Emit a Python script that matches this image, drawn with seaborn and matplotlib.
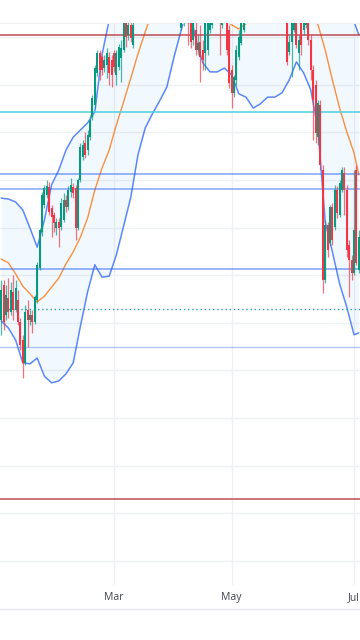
import matplotlib
matplotlib.use("Agg")
import matplotlib.pyplot as plt
import seaborn as sns

# daily candles, one per bar
opens = [150.6, 158.0, 151.6, 155.2, 152.3, 156.5, 152.7, 154.8, 150.2, 146.4,
         141.6, 152.7, 150.6, 151.6, 150.2, 154.8, 161.5, 169.1, 174.7, 176.8,
         178.5, 174.1, 172.7, 169.9, 171.2, 170.1, 171.6, 175.8, 174.3, 177.5,
         178.5, 178.3, 169.9, 180.0, 184.8, 187.8, 186.3, 189.0, 193.2, 195.8,
         202.5, 206.7, 205.8, 203.5, 204.2, 205.8, 205.2, 206.7, 202.1, 203.7,
         205.6, 207.3, 213.0, 210.4, 212.6, 208.4, 214.0, 216.5, 218.8, 217.6,
         220.4, 222.1, 221.0, 223.8, 225.2, 223.6, 224.9, 222.4, 223.9, 221.5,
         219.8, 220.9, 218.6, 217.2, 218.1, 211.9, 213.6, 215.7, 215.7, 214.7,
         209.4, 211.5, 207.3, 209.0, 207.3, 206.7, 207.3, 211.5, 212.6, 215.7,
         217.0, 215.7, 212.6, 215.7, 214.7, 211.5, 203.1, 198.3, 201.0, 205.8,
         208.8, 211.5, 214.7, 217.3, 219.6, 218.2, 221.4, 223.5, 222.0, 224.8,
         226.7, 225.1, 223.2, 224.6, 222.1, 220.3, 221.5, 219.0, 217.4, 214.7,
         206.9, 209.0, 211.5, 213.6, 206.7, 214.7, 211.5, 212.6, 214.0, 209.4,
         203.1, 199.9, 189.0, 195.8, 182.1, 159.0, 170.6, 166.8, 174.3, 170.1,
         177.9, 172.7, 177.9, 181.5, 177.9, 166.4, 163.2, 160.5, 182.1, 161.1]
highs = [159.0, 159.0, 158.0, 159.4, 158.6, 160.0, 159.0, 156.9, 151.0, 147.4,
         153.7, 154.8, 152.7, 152.7, 155.8, 162.8, 169.9, 177.5, 179.0, 180.0,
         179.6, 174.7, 173.3, 172.0, 172.0, 176.2, 177.3, 176.8, 178.7, 180.4,
         179.4, 179.0, 180.4, 187.8, 188.4, 190.1, 190.5, 193.7, 197.9, 204.2,
         207.3, 207.3, 206.3, 206.3, 207.7, 206.9, 206.3, 207.3, 207.3, 208.6,
         209.4, 214.7, 214.7, 214.7, 214.0, 214.7, 217.5, 219.5, 220.2, 221.3,
         223.0, 223.4, 224.9, 226.3, 226.0, 226.1, 225.6, 224.8, 224.4, 222.3,
         221.8, 221.5, 219.4, 219.0, 218.8, 216.8, 216.8, 218.0, 217.8, 216.8,
         215.7, 213.6, 210.5, 212.6, 209.4, 215.7, 216.8, 216.8, 217.8, 218.3,
         218.0, 217.8, 216.8, 217.6, 216.8, 212.6, 204.2, 202.1, 208.4, 211.5,
         214.7, 216.8, 218.4, 220.5, 220.8, 222.3, 224.6, 224.2, 225.9, 227.5,
         227.6, 226.0, 225.5, 225.0, 223.0, 222.6, 222.1, 219.8, 219.5, 216.8,
         210.5, 215.7, 215.7, 215.7, 210.5, 216.8, 216.8, 215.7, 215.7, 210.5,
         204.2, 201.0, 196.8, 196.8, 183.2, 171.6, 171.2, 174.7, 175.2, 178.9,
         178.7, 180.0, 182.7, 182.7, 178.9, 167.4, 164.3, 182.1, 183.2, 169.5]
lows = [147.5, 148.5, 150.6, 151.0, 151.6, 150.6, 152.3, 149.5, 144.3, 138.4,
        141.2, 144.9, 149.5, 147.9, 149.8, 154.2, 161.1, 168.2, 174.1, 176.2,
        172.7, 168.0, 169.1, 168.4, 165.9, 169.5, 171.2, 173.3, 173.7, 176.4,
        176.2, 167.4, 169.5, 179.6, 184.2, 184.6, 185.2, 188.4, 192.6, 195.1,
        201.8, 201.0, 202.1, 202.7, 201.4, 200.0, 199.5, 202.7, 200.0, 203.1,
        200.6, 206.9, 208.0, 209.4, 209.0, 207.7, 213.6, 215.8, 216.9, 217.0,
        219.6, 220.2, 220.5, 222.9, 222.8, 222.5, 221.7, 221.5, 220.6, 218.9,
        218.7, 217.7, 216.3, 216.0, 215.2, 211.5, 212.3, 213.6, 208.4, 207.7,
        208.4, 206.3, 206.3, 200.6, 203.1, 203.1, 206.3, 210.9, 211.9, 214.2,
        214.5, 206.3, 211.9, 214.0, 206.3, 199.3, 195.1, 197.4, 200.0, 205.2,
        208.4, 211.1, 213.9, 216.4, 217.3, 217.5, 220.6, 221.1, 221.3, 223.9,
        224.2, 222.4, 222.1, 221.2, 219.4, 219.5, 218.1, 216.2, 215.0, 204.2,
        206.3, 201.6, 211.1, 207.7, 203.1, 206.3, 210.5, 211.9, 208.4, 201.0,
        188.4, 187.8, 187.4, 182.1, 156.3, 158.4, 163.8, 166.4, 166.4, 169.5,
        172.0, 172.2, 177.5, 172.7, 163.8, 155.4, 159.0, 160.1, 162.2, 160.5]
closes = [156.9, 150.2, 155.8, 152.3, 156.9, 152.7, 157.3, 150.2, 145.3, 141.6,
          152.3, 150.6, 151.6, 150.2, 155.4, 162.1, 169.5, 176.8, 178.3, 178.7,
          173.3, 172.2, 171.0, 171.2, 169.9, 175.2, 175.8, 174.3, 177.9, 179.0,
          177.3, 169.9, 180.0, 186.9, 187.4, 185.2, 189.5, 192.6, 197.2, 203.5,
          206.7, 203.1, 203.1, 205.2, 206.7, 202.5, 202.1, 203.7, 206.7, 207.9,
          207.7, 213.0, 210.0, 212.6, 209.8, 212.6, 216.5, 218.8, 217.6, 220.4,
          222.1, 221.0, 223.8, 225.2, 223.6, 224.9, 222.4, 223.9, 221.5, 219.8,
          220.9, 218.6, 217.2, 218.1, 216.4, 214.7, 215.7, 216.9, 213.6, 209.0,
          213.2, 207.3, 208.8, 205.8, 205.2, 213.0, 213.6, 214.7, 215.7, 217.0,
          216.2, 213.6, 215.7, 216.5, 207.3, 200.4, 198.3, 201.6, 207.3, 210.0,
          213.0, 214.7, 217.3, 219.6, 218.2, 221.4, 223.5, 222.0, 224.8, 226.7,
          225.1, 223.2, 224.6, 222.1, 220.3, 221.5, 219.0, 217.4, 218.6, 204.8,
          209.0, 213.6, 214.0, 208.4, 209.4, 208.4, 214.7, 213.6, 209.4, 203.1,
          196.8, 189.9, 196.2, 183.2, 159.0, 170.6, 165.3, 174.3, 167.4, 177.9,
          173.1, 179.4, 182.1, 177.9, 165.3, 163.2, 160.5, 169.5, 162.6, 168.0]

# bollinger bands read every third bar
band_bars = [0, 3, 6, 9, 12, 15, 18, 21, 24, 27, 30, 33, 36, 39, 42, 45, 48,
             51, 54, 57, 60, 63, 66, 69, 72, 75, 78, 81, 84, 87, 90, 93, 96,
             99, 102, 105, 108, 111, 114, 117, 120, 123, 126, 129, 132, 135,
             138, 141, 144, 147, 149]
upper_band = [176.2, 176.0, 175.4, 173.7, 169.9, 165.9, 171.6, 179.0, 182.1, 186.3,
              189.0, 190.5, 192.0, 194.3, 206.3, 213.6, 222, 228, 233, 236,
              238, 240, 241, 241, 240, 238, 236, 234, 232, 231,
              230, 230, 224, 225, 227, 229, 229, 229, 229, 229,
              230, 231, 231, 230, 230, 229, 226, 222, 217, 213.3, 210.5]
lower_band = [150.4, 148.9, 146.4, 141.6, 141.4, 142.6, 138.8, 137.4, 137.8, 139.3,
              141.6, 149.3, 156.5, 162.2, 159.6, 159.8, 164.3, 170.3, 176.4, 185.3,
              190.9, 193.9, 196.6, 199.5, 205.8, 211.5, 216.8, 209.8, 204.6, 202.7,
              202.7, 203.5, 202.1, 198.1, 197.4, 195.1, 196.0, 197.4, 197.4, 198.3,
              201.0, 204.8, 202.5, 198.9, 190.5, 171.2, 164.9, 158.2, 153.3, 147.5, 147.9]
basis = [163.4, 162.6, 160.3, 157.7, 156.1, 154.4, 155.6, 157.5, 159.4, 162.4,
         164.9, 168.0, 172.0, 177.9, 182.5, 186.3, 191.6, 196.4, 201.4, 206.5,
         211.1, 215.5, 217, 218, 218.5, 218, 217.5, 216.5, 215.5, 214.8,
         214.2, 213.6, 212.6, 211.7, 212.8, 213.8, 214.5, 215, 215.5, 216,
         216.5, 217, 216.5, 215, 212.6, 207.3, 201.0, 195.1, 190.1, 185.7, 181.1]

# drawn price levels
red_levels = [210.5, 113.0]
cyan_levels = [194.3]
blue_levels = [181.3, 161.3]
blue_soft_levels = [178.1]
light_blue_levels = [144.9]
dotted_levels = [153.0]

month_bars = [47, 96, 147]
month_labels = ["Mar", "May", "Jul"]

sns.set_style('white')
plt.rcParams['font.family'] = ['Open Sans', 'DejaVu Sans']

green = '#089981'
red = '#f23645'

fig = plt.figure(figsize=(3.6, 6.4), dpi=100)
ax = fig.add_axes([0, 55 / 640, 1, 562 / 640])

# band fill and lines
ax.fill_between(band_bars, lower_band, upper_band, color='#2196f3', alpha=0.06, lw=0)
sns.lineplot(x=band_bars, y=upper_band, ax=ax, color='#2962ff', alpha=0.75, lw=1.1)
sns.lineplot(x=band_bars, y=lower_band, ax=ax, color='#2962ff', alpha=0.75, lw=1.1)
sns.lineplot(x=band_bars, y=basis, ax=ax, color='#ff6d00', alpha=0.75, lw=1.0)

# levels
for lv in red_levels:
    ax.axhline(lv, color='#b22833', alpha=0.7, lw=1.3)
for lv in cyan_levels:
    ax.axhline(lv, color='#4dd0e1', alpha=0.8, lw=1.4)
for lv in blue_levels:
    ax.axhline(lv, color='#2962ff', alpha=0.6, lw=1.1)
for lv in blue_soft_levels:
    ax.axhline(lv, color='#2962ff', alpha=0.45, lw=1.4)
for lv in light_blue_levels:
    ax.axhline(lv, color='#2962ff', alpha=0.35, lw=1.0)
for lv in dotted_levels:
    ax.axhline(lv, color='#26a69a', lw=1.0, ls=(0, (1, 2)))

# candles
bars = list(range(len(closes)))
colors = [green if c >= o else red for o, c in zip(opens, closes)]
ax.vlines(bars, lows, highs, colors=colors, lw=0.9, alpha=0.7, zorder=3)
bottoms = [min(o, c) for o, c in zip(opens, closes)]
heights = [max(abs(c - o), 0.4) for o, c in zip(opens, closes)]
ax.bar(bars, heights, bottom=bottoms, width=0.9, color=colors, lw=0, zorder=4)

ax.set_xlim(-0.5, 149.5)
ax.set_ylim(94.95, 212.97)
ax.set_yticks(range(100, 220, 10))
ax.set_yticklabels([])
ax.set_xticks(month_bars)
ax.set_xticklabels(month_labels, fontsize=7.5, color='#434651')
ax.tick_params(axis='x', length=0, pad=5)
ax.tick_params(axis='y', length=0)
ax.grid(True, color='#eef0f4', lw=1)
ax.set_axisbelow(True)
for side in ['left', 'right', 'bottom']:
    ax.spines[side].set_visible(False)
ax.spines['top'].set_color('#eef0f4')
ax.set_xlabel('')
ax.set_ylabel('')

fig.add_artist(plt.Line2D([0, 1], [31 / 640, 31 / 640], color='#e6e8ee', lw=1))

fig.savefig('out.png', dpi=100)
